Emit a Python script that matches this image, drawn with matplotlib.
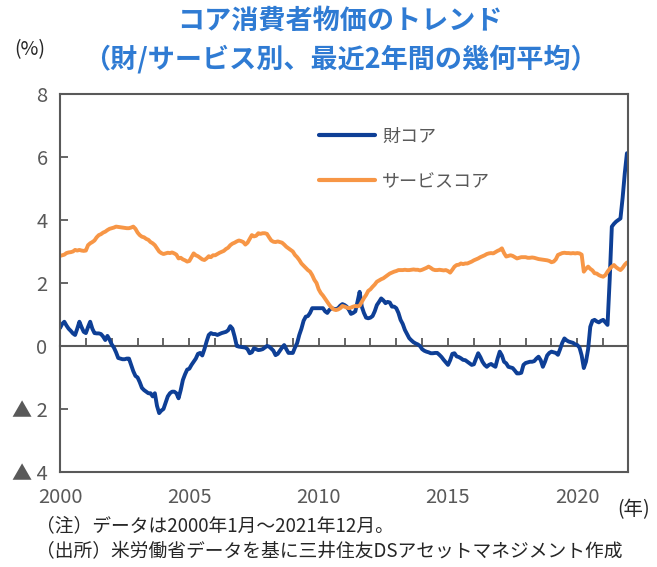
import matplotlib
matplotlib.use("Agg")
import matplotlib.pyplot as plt
import numpy as np

plt.rcParams['font.family'] = ['Noto Sans CJK JP', 'DejaVu Sans']

years = list(range(2000, 2022))

goods_core = [
    # 2000
    0.57, 0.70, 0.77, 0.65, 0.55, 0.48, 0.40, 0.35, 0.55, 0.77, 0.60, 0.45,
    # 2001
    0.41, 0.60, 0.77, 0.55, 0.41, 0.40, 0.40, 0.38, 0.30, 0.19, 0.32, 0.20,
    # 2002
    0.05, -0.05, -0.20, -0.38, -0.40, -0.42, -0.42, -0.40, -0.40, -0.60, -0.80, -0.95,
    # 2003
    -1.00, -1.15, -1.33, -1.40, -1.45, -1.50, -1.50, -1.60, -1.50, -1.90, -2.13, -2.05,
    # 2004
    -2.00, -1.80, -1.60, -1.50, -1.45, -1.45, -1.50, -1.66, -1.40, -1.08, -0.90, -0.75,
    # 2005
    -0.72, -0.60, -0.50, -0.40, -0.25, -0.22, -0.30, -0.10, 0.14, 0.35, 0.41, 0.38,
    # 2006
    0.38, 0.35, 0.38, 0.41, 0.43, 0.45, 0.50, 0.63, 0.55, 0.30, 0.00, -0.02,
    # 2007
    -0.03, -0.04, -0.05, -0.10, -0.23, -0.20, -0.07, -0.10, -0.13, -0.12, -0.10, -0.05,
    # 2008
    0.00, -0.02, -0.08, -0.15, -0.29, -0.25, -0.15, -0.05, 0.03, -0.10, -0.22, -0.22,
    # 2009
    -0.22, -0.05, 0.09, 0.35, 0.55, 0.80, 0.93, 0.95, 1.05, 1.20, 1.20, 1.20,
    # 2010
    1.20, 1.20, 1.20, 1.10, 1.05, 1.15, 1.20, 1.18, 1.17, 1.20, 1.28, 1.33,
    # 2011
    1.30, 1.25, 1.15, 1.02, 1.05, 1.10, 1.40, 1.72, 1.25, 1.05, 0.90, 0.88,
    # 2012
    0.90, 0.95, 1.10, 1.30, 1.40, 1.51, 1.45, 1.36, 1.40, 1.38, 1.25, 1.25,
    # 2013
    1.20, 1.05, 0.83, 0.70, 0.51, 0.38, 0.25, 0.18, 0.12, 0.08, 0.05, 0.00,
    # 2014
    -0.10, -0.15, -0.18, -0.20, -0.23, -0.23, -0.22, -0.22, -0.28, -0.35, -0.44, -0.52,
    # 2015
    -0.60, -0.45, -0.25, -0.23, -0.33, -0.35, -0.39, -0.44, -0.45, -0.50, -0.55, -0.60,
    # 2016
    -0.58, -0.40, -0.23, -0.35, -0.50, -0.60, -0.66, -0.60, -0.57, -0.62, -0.66, -0.40,
    # 2017
    -0.18, -0.30, -0.50, -0.55, -0.66, -0.68, -0.70, -0.78, -0.87, -0.87, -0.85, -0.60,
    # 2018
    -0.54, -0.52, -0.50, -0.50, -0.48, -0.40, -0.34, -0.45, -0.66, -0.50, -0.30, -0.22,
    # 2019
    -0.18, -0.20, -0.22, -0.28, -0.10, 0.10, 0.24, 0.18, 0.14, 0.12, 0.10, 0.05,
    # 2020
    0.03, -0.05, -0.30, -0.70, -0.50, -0.10, 0.61, 0.80, 0.83, 0.78, 0.75, 0.80,
    # 2021
    0.83, 0.75, 0.67, 2.10, 3.79, 3.88, 3.95, 4.00, 4.05, 4.70, 5.48, 6.12,
]

services_core = [
    # 2000
    2.86, 2.88, 2.90, 2.95, 2.97, 2.98, 3.00, 3.05, 3.03, 3.05, 3.03, 3.02,
    # 2001
    3.03, 3.20, 3.26, 3.30, 3.35, 3.45, 3.52, 3.55, 3.60, 3.63, 3.68, 3.72,
    # 2002
    3.74, 3.76, 3.79, 3.78, 3.77, 3.76, 3.75, 3.74, 3.74, 3.76, 3.79, 3.72,
    # 2003
    3.60, 3.52, 3.47, 3.45, 3.40, 3.37, 3.30, 3.26, 3.20, 3.10, 3.00, 2.95,
    # 2004
    2.92, 2.94, 2.96, 2.95, 2.97, 2.94, 2.90, 2.78, 2.80, 2.75, 2.72, 2.68,
    # 2005
    2.70, 2.82, 2.94, 2.88, 2.85, 2.80, 2.75, 2.73, 2.78, 2.85, 2.82, 2.88,
    # 2006
    2.88, 2.92, 2.96, 2.99, 3.02, 3.08, 3.12, 3.20, 3.25, 3.28, 3.32, 3.35,
    # 2007
    3.33, 3.30, 3.22, 3.28, 3.40, 3.52, 3.48, 3.50, 3.58, 3.56, 3.58, 3.58,
    # 2008
    3.56, 3.45, 3.35, 3.31, 3.30, 3.32, 3.30, 3.28, 3.22, 3.15, 3.10, 3.05,
    # 2009
    3.00, 2.89, 2.82, 2.73, 2.62, 2.55, 2.48, 2.41, 2.36, 2.25, 2.10, 2.00,
    # 2010
    1.80, 1.68, 1.60, 1.50, 1.40, 1.30, 1.22, 1.16, 1.14, 1.16, 1.20, 1.27,
    # 2011
    1.25, 1.22, 1.20, 1.22, 1.25, 1.27, 1.26, 1.28, 1.40, 1.52, 1.62, 1.75,
    # 2012
    1.80, 1.88, 1.95, 2.04, 2.08, 2.12, 2.15, 2.20, 2.25, 2.30, 2.33, 2.36,
    # 2013
    2.38, 2.41, 2.41, 2.41, 2.42, 2.41, 2.41, 2.42, 2.43, 2.42, 2.42, 2.40,
    # 2014
    2.42, 2.45, 2.48, 2.52, 2.48, 2.43, 2.41, 2.41, 2.42, 2.41, 2.40, 2.41,
    # 2015
    2.38, 2.33, 2.42, 2.52, 2.57, 2.58, 2.62, 2.60, 2.62, 2.62, 2.65, 2.68,
    # 2016
    2.72, 2.75, 2.78, 2.82, 2.85, 2.88, 2.92, 2.94, 2.95, 2.94, 2.98, 3.02,
    # 2017
    3.05, 3.10, 2.95, 2.84, 2.86, 2.88, 2.86, 2.82, 2.78, 2.80, 2.82, 2.82,
    # 2018
    2.82, 2.80, 2.80, 2.81, 2.80, 2.78, 2.76, 2.75, 2.74, 2.73, 2.72, 2.70,
    # 2019
    2.66, 2.68, 2.75, 2.89, 2.92, 2.95, 2.96, 2.95, 2.95, 2.94, 2.95, 2.94,
    # 2020
    2.95, 2.94, 2.90, 2.36, 2.45, 2.52, 2.45, 2.40, 2.31, 2.30, 2.25, 2.22,
    # 2021
    2.20, 2.25, 2.36, 2.45, 2.52, 2.57, 2.50, 2.45, 2.41, 2.48, 2.58, 2.65,
]

series_labels = ['財コア', 'サービスコア']
y_ticks = [8, 6, 4, 2, 0, -2, -4]
y_tick_labels = ['8', '6', '4', '2', '0', '▲ 2', '▲ 4']
x_tick_years = [2000, 2005, 2010, 2015, 2020]

title = 'コア消費者物価のトレンド\n（財/サービス別、最近2年間の幾何平均）'
note1 = '（注）データは2000年1月～2021年12月。'
note2 = '（出所）米労働省データを基に三井住友DSアセットマネジメント作成'

BLUE = '#0e3f96'
ORANGE = '#f79646'
GREY = '#595959'
TITLE_BLUE = '#2f7bd3'

n = len(goods_core)
x = np.arange(n)

fig = plt.figure(figsize=(6.57, 5.67), dpi=100)
ax = fig.add_axes([60/657, 1-472/567, 568/657, 378/567])

ax.plot(x, goods_core, color=BLUE, lw=2.8, label=series_labels[0], solid_capstyle='round')
ax.plot(x, services_core, color=ORANGE, lw=2.8, label=series_labels[1], solid_capstyle='round')

ax.set_xlim(0, n - 0.5)
ax.set_ylim(-4, 8)

for s in ax.spines.values():
    s.set_color(GREY)
    s.set_linewidth(1.5)

ax.set_yticks(y_ticks)
ax.set_yticklabels(y_tick_labels)
ax.tick_params(axis='y', direction='in', length=6, width=1.3, color=GREY,
               labelcolor=GREY, labelsize=14.5, pad=9)

label_pos = [(yr - 2000) * 12 for yr in x_tick_years]
ax.set_xticks(label_pos)
ax.set_xticklabels([str(v) for v in x_tick_years])
ax.tick_params(axis='x', length=0, labelcolor=GREY, labelsize=14.5, pad=11)

zero_frac = (0 - (-4)) / 12
sec = ax.secondary_xaxis(zero_frac)
sec.set_xticks([(yr - 2000) * 12 for yr in years])
sec.tick_params(axis='x', direction='in', length=6, width=1.3, color=GREY, labelbottom=False)
sec.set_xticklabels([])
sec.spines['bottom'].set_color(GREY)
sec.spines['bottom'].set_linewidth(1.5)

leg = ax.legend(loc='upper left', bbox_to_anchor=(0.44, 0.935), frameon=False,
                handlelength=3.1, handletextpad=0.4, labelspacing=1.5,
                prop={'size': 13}, borderpad=0)
for t in leg.get_texts():
    t.set_color(GREY)
for h in leg.get_lines():
    h.set_linewidth(3)

fig.text(340/657, 1-40/567, title, ha='center', va='center', color=TITLE_BLUE,
         fontsize=19.5, fontweight='bold', linespacing=1.4)

fig.text(30/657, 1-50/567, '(%)', ha='center', va='center', color='#262626', fontsize=14)
fig.text(634/657, 1-510/567, '(年)', ha='center', va='center', color='#262626', fontsize=14)
fig.text(36/657, 1-526/567, note1, ha='left', va='center', color='#262626', fontsize=13.5)
fig.text(36/657, 1-552/567, note2, ha='left', va='center', color='#262626', fontsize=13.5)

fig.savefig('out.png', dpi=100)
